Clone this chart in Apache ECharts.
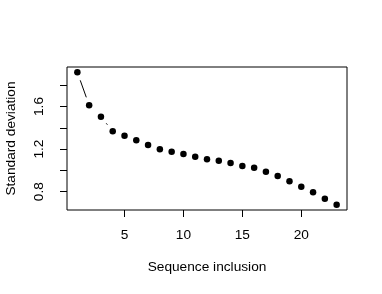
<!DOCTYPE html>
<html>
<head>
<meta charset="utf-8">
<script src="https://cdn.jsdelivr.net/npm/echarts@6/dist/echarts.min.js"></script>
<style>
html,body{margin:0;padding:0;background:#fff;}
#chart{width:382px;height:294px;}
</style>
</head>
<body>
<div id="chart"></div>
<script>
const xValues = [1,2,3,4,5,6,7,8,9,10,11,12,13,14,15,16,17,18,19,20,21,22,23];
const sdValues = [1.921,1.611,1.504,1.367,1.326,1.283,1.238,1.198,1.176,1.154,1.129,1.104,1.091,1.069,1.041,1.025,0.988,0.947,0.898,0.847,0.794,0.734,0.678];
const xTickValues = [5,10,15,20];
const yTickValues = [0.8,1.0,1.2,1.4,1.6,1.8];
const yLabelValues = [0.8,1.2,1.6];
const xTitle = 'Sequence inclusion';
const yTitle = 'Standard deviation';

const FONT = 'Liberation Sans, Arial, Helvetica, sans-serif';
const FS = 13.7;

// R-style axis range: extend data range by 4% on each side
function rRange(arr){
  const mn = Math.min(...arr), mx = Math.max(...arr);
  const d = (mx - mn) * 0.04;
  return [mn - d, mx + d];
}
const xr = rRange(xValues);
const yr = rRange(sdValues);

const points = xValues.map((x,i)=>[x, sdValues[i]]);
const segments = xValues.slice(0,-1).map((x,i)=>[x, sdValues[i], xValues[i+1], sdValues[i+1]]);

const GAP = 8.5;

const chart = echarts.init(document.getElementById('chart'), null, {renderer:'canvas'});
chart.setOption({
  animation:false,
  backgroundColor:'#ffffff',
  grid:{left:67, right:35, top:67, bottom:84, show:true, borderColor:'#000', borderWidth:1, backgroundColor:'transparent', containLabel:false, outerBoundsMode:'none'},
  xAxis:{
    type:'value', min:xr[0], max:xr[1],
    axisLine:{show:false},
    splitLine:{show:false},
    axisTick:{show:true, inside:false, length:7, lineStyle:{color:'#000', width:1}, customValues:xTickValues},
    axisLabel:{show:true, margin:18, color:'#000', fontFamily:FONT, fontSize:FS, customValues:xTickValues, formatter:v=>String(v)},
    name:xTitle, nameLocation:'middle', nameGap:50,
    nameTextStyle:{color:'#000', fontFamily:FONT, fontSize:FS}
  },
  yAxis:{
    type:'value', min:yr[0], max:yr[1],
    axisLine:{show:false},
    splitLine:{show:false},
    axisTick:{show:true, inside:false, length:7, lineStyle:{color:'#000', width:1}, customValues:yTickValues},
    axisLabel:{show:true, margin:21, rotate:90, color:'#000', fontFamily:FONT, fontSize:FS, customValues:yLabelValues, formatter:v=>v.toFixed(1)},
    name:yTitle, nameLocation:'middle', nameGap:49, nameRotate:90,
    nameTextStyle:{color:'#000', fontFamily:FONT, fontSize:FS}
  },
  series:[
    {
      type:'custom',
      data:segments,
      silent:true,
      renderItem:function(params, api){
        const p1 = api.coord([api.value(0), api.value(1)]);
        const p2 = api.coord([api.value(2), api.value(3)]);
        const dx = p2[0]-p1[0], dy = p2[1]-p1[1];
        const len = Math.sqrt(dx*dx+dy*dy);
        if (len <= 2*GAP) return null;
        const ux = dx/len, uy = dy/len;
        return {
          type:'line',
          shape:{x1:p1[0]+ux*GAP, y1:p1[1]+uy*GAP, x2:p2[0]-ux*GAP, y2:p2[1]-uy*GAP},
          style:{stroke:'#000', lineWidth:1}
        };
      }
    },
    {
      type:'scatter',
      data:points,
      symbol:'circle',
      symbolSize:6.5,
      itemStyle:{color:'#000', opacity:1},
      silent:true
    }
  ]
});
</script>
</body>
</html>
